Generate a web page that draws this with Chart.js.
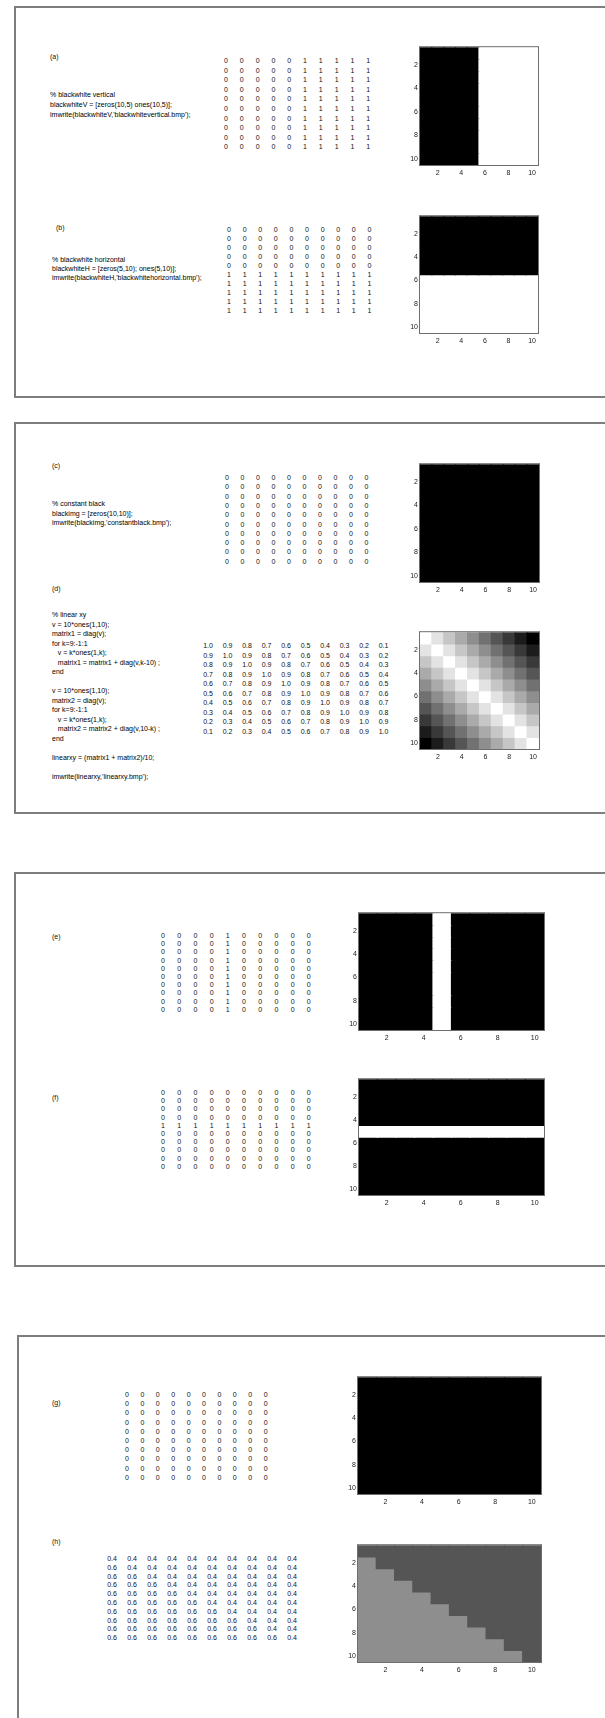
<!DOCTYPE html>
<html lang="en">
<head>
<meta charset="UTF-8">
<title>Test images</title>
<script src="https://cdn.jsdelivr.net/npm/chart.js"></script>
<style>
  html, body { margin: 0; padding: 0; background: #fff; overflow: hidden; }
  body { width: 605px; height: 1718px; position: relative; font-family: 'Liberation Sans', Arial, sans-serif; color: #000; -webkit-font-smoothing: antialiased; }
  .panel { position: absolute; box-sizing: border-box; border: 2px solid #7d7d7d; width: 640px; }
  .lbl { position: absolute; font-size: 7px; line-height: 8px; color: #111; }
  .code { position: absolute; font-size: 7px; line-height: 9.5px; white-space: pre; color: #000; }
  .num { position: absolute; font-size: 7px; line-height: 7px; transform: translate(-50%, -50%); color: #111; }
  canvas { position: absolute; }
</style>
</head>
<body>
  <div class="panel" style="left:14px; top:6px; height:392px;"></div>
  <div class="panel" style="left:14px; top:422px; height:392px;"></div>
  <div class="panel" style="left:14px; top:872px; height:395px;"></div>
  <div class="panel" style="left:17px; top:1335px; height:500px;"></div>

  <div class="lbl" style="left:50px; top:53px;">(a)</div>
  <div class="lbl" style="left:56px; top:224px;">(b)</div>
  <div class="lbl" style="left:52px; top:462px;">(c)</div>
  <div class="lbl" style="left:52px; top:585px;">(d)</div>
  <div class="lbl" style="left:52px; top:933px;">(e)</div>
  <div class="lbl" style="left:52px; top:1094px;">(f)</div>
  <div class="lbl" style="left:52px; top:1399px;">(g)</div>
  <div class="lbl" style="left:52px; top:1538px;">(h)</div>

  <div class="code" id="codeA" style="left:50px; top:90px; line-height:10px;"></div>
  <div class="code" id="codeB" style="left:52px; top:255px; line-height:9px;"></div>
  <div class="code" id="codeC" style="left:52px; top:499px;"></div>
  <div class="code" id="codeD" style="left:52px; top:610px;"></div>

<script>
// ---- data ----
const cols = [1, 2, 3, 4, 5, 6, 7, 8, 9, 10];
const rowsIdx = [1, 2, 3, 4, 5, 6, 7, 8, 9, 10];
const tickVals = [2, 4, 6, 8, 10];

const codeA = [
  '% blackwhite vertical',
  "blackwhiteV = [zeros(10,5) ones(10,5)];",
  "imwrite(blackwhiteV,'blackwhitevertical.bmp');"
];
const codeB = [
  '% blackwhite horizontal',
  "blackwhiteH = [zeros(5,10); ones(5,10)];",
  "imwrite(blackwhiteH,'blackwhitehorizontal.bmp');"
];
const codeC = [
  '% constant black',
  "blackimg = [zeros(10,10)];",
  "imwrite(blackimg,'constantblack.bmp');"
];
const codeD = [
  '% linear xy',
  'v = 10*ones(1,10);',
  'matrix1 = diag(v);',
  'for k=9:-1:1',
  '   v = k*ones(1,k);',
  '   matrix1 = matrix1 + diag(v,k-10) ;',
  'end',
  '',
  'v = 10*ones(1,10);',
  'matrix2 = diag(v);',
  'for k=9:-1:1',
  '   v = k*ones(1,k);',
  '   matrix2 = matrix2 + diag(v,10-k) ;',
  'end',
  '',
  'linearxy = (matrix1 + matrix2)/10;',
  '',
  "imwrite(linearxy,'linearxy.bmp');"
];

const matA = [
  [0, 0, 0, 0, 0, 1, 1, 1, 1, 1],
  [0, 0, 0, 0, 0, 1, 1, 1, 1, 1],
  [0, 0, 0, 0, 0, 1, 1, 1, 1, 1],
  [0, 0, 0, 0, 0, 1, 1, 1, 1, 1],
  [0, 0, 0, 0, 0, 1, 1, 1, 1, 1],
  [0, 0, 0, 0, 0, 1, 1, 1, 1, 1],
  [0, 0, 0, 0, 0, 1, 1, 1, 1, 1],
  [0, 0, 0, 0, 0, 1, 1, 1, 1, 1],
  [0, 0, 0, 0, 0, 1, 1, 1, 1, 1],
  [0, 0, 0, 0, 0, 1, 1, 1, 1, 1]
];
const matB = [
  [0, 0, 0, 0, 0, 0, 0, 0, 0, 0],
  [0, 0, 0, 0, 0, 0, 0, 0, 0, 0],
  [0, 0, 0, 0, 0, 0, 0, 0, 0, 0],
  [0, 0, 0, 0, 0, 0, 0, 0, 0, 0],
  [0, 0, 0, 0, 0, 0, 0, 0, 0, 0],
  [1, 1, 1, 1, 1, 1, 1, 1, 1, 1],
  [1, 1, 1, 1, 1, 1, 1, 1, 1, 1],
  [1, 1, 1, 1, 1, 1, 1, 1, 1, 1],
  [1, 1, 1, 1, 1, 1, 1, 1, 1, 1],
  [1, 1, 1, 1, 1, 1, 1, 1, 1, 1]
];
const matC = [
  [0, 0, 0, 0, 0, 0, 0, 0, 0, 0],
  [0, 0, 0, 0, 0, 0, 0, 0, 0, 0],
  [0, 0, 0, 0, 0, 0, 0, 0, 0, 0],
  [0, 0, 0, 0, 0, 0, 0, 0, 0, 0],
  [0, 0, 0, 0, 0, 0, 0, 0, 0, 0],
  [0, 0, 0, 0, 0, 0, 0, 0, 0, 0],
  [0, 0, 0, 0, 0, 0, 0, 0, 0, 0],
  [0, 0, 0, 0, 0, 0, 0, 0, 0, 0],
  [0, 0, 0, 0, 0, 0, 0, 0, 0, 0],
  [0, 0, 0, 0, 0, 0, 0, 0, 0, 0]
];
const matD = [
  [1.0, 0.9, 0.8, 0.7, 0.6, 0.5, 0.4, 0.3, 0.2, 0.1],
  [0.9, 1.0, 0.9, 0.8, 0.7, 0.6, 0.5, 0.4, 0.3, 0.2],
  [0.8, 0.9, 1.0, 0.9, 0.8, 0.7, 0.6, 0.5, 0.4, 0.3],
  [0.7, 0.8, 0.9, 1.0, 0.9, 0.8, 0.7, 0.6, 0.5, 0.4],
  [0.6, 0.7, 0.8, 0.9, 1.0, 0.9, 0.8, 0.7, 0.6, 0.5],
  [0.5, 0.6, 0.7, 0.8, 0.9, 1.0, 0.9, 0.8, 0.7, 0.6],
  [0.4, 0.5, 0.6, 0.7, 0.8, 0.9, 1.0, 0.9, 0.8, 0.7],
  [0.3, 0.4, 0.5, 0.6, 0.7, 0.8, 0.9, 1.0, 0.9, 0.8],
  [0.2, 0.3, 0.4, 0.5, 0.6, 0.7, 0.8, 0.9, 1.0, 0.9],
  [0.1, 0.2, 0.3, 0.4, 0.5, 0.6, 0.7, 0.8, 0.9, 1.0]
];
const matE = [
  [0, 0, 0, 0, 1, 0, 0, 0, 0, 0],
  [0, 0, 0, 0, 1, 0, 0, 0, 0, 0],
  [0, 0, 0, 0, 1, 0, 0, 0, 0, 0],
  [0, 0, 0, 0, 1, 0, 0, 0, 0, 0],
  [0, 0, 0, 0, 1, 0, 0, 0, 0, 0],
  [0, 0, 0, 0, 1, 0, 0, 0, 0, 0],
  [0, 0, 0, 0, 1, 0, 0, 0, 0, 0],
  [0, 0, 0, 0, 1, 0, 0, 0, 0, 0],
  [0, 0, 0, 0, 1, 0, 0, 0, 0, 0],
  [0, 0, 0, 0, 1, 0, 0, 0, 0, 0]
];
const matF = [
  [0, 0, 0, 0, 0, 0, 0, 0, 0, 0],
  [0, 0, 0, 0, 0, 0, 0, 0, 0, 0],
  [0, 0, 0, 0, 0, 0, 0, 0, 0, 0],
  [0, 0, 0, 0, 0, 0, 0, 0, 0, 0],
  [1, 1, 1, 1, 1, 1, 1, 1, 1, 1],
  [0, 0, 0, 0, 0, 0, 0, 0, 0, 0],
  [0, 0, 0, 0, 0, 0, 0, 0, 0, 0],
  [0, 0, 0, 0, 0, 0, 0, 0, 0, 0],
  [0, 0, 0, 0, 0, 0, 0, 0, 0, 0],
  [0, 0, 0, 0, 0, 0, 0, 0, 0, 0]
];
const matG = [
  [0, 0, 0, 0, 0, 0, 0, 0, 0, 0],
  [0, 0, 0, 0, 0, 0, 0, 0, 0, 0],
  [0, 0, 0, 0, 0, 0, 0, 0, 0, 0],
  [0, 0, 0, 0, 0, 0, 0, 0, 0, 0],
  [0, 0, 0, 0, 0, 0, 0, 0, 0, 0],
  [0, 0, 0, 0, 0, 0, 0, 0, 0, 0],
  [0, 0, 0, 0, 0, 0, 0, 0, 0, 0],
  [0, 0, 0, 0, 0, 0, 0, 0, 0, 0],
  [0, 0, 0, 0, 0, 0, 0, 0, 0, 0],
  [0, 0, 0, 0, 0, 0, 0, 0, 0, 0]
];
const matH = [
  [0.4, 0.4, 0.4, 0.4, 0.4, 0.4, 0.4, 0.4, 0.4, 0.4],
  [0.6, 0.4, 0.4, 0.4, 0.4, 0.4, 0.4, 0.4, 0.4, 0.4],
  [0.6, 0.6, 0.4, 0.4, 0.4, 0.4, 0.4, 0.4, 0.4, 0.4],
  [0.6, 0.6, 0.6, 0.4, 0.4, 0.4, 0.4, 0.4, 0.4, 0.4],
  [0.6, 0.6, 0.6, 0.6, 0.4, 0.4, 0.4, 0.4, 0.4, 0.4],
  [0.6, 0.6, 0.6, 0.6, 0.6, 0.4, 0.4, 0.4, 0.4, 0.4],
  [0.6, 0.6, 0.6, 0.6, 0.6, 0.6, 0.4, 0.4, 0.4, 0.4],
  [0.6, 0.6, 0.6, 0.6, 0.6, 0.6, 0.6, 0.4, 0.4, 0.4],
  [0.6, 0.6, 0.6, 0.6, 0.6, 0.6, 0.6, 0.6, 0.4, 0.4],
  [0.6, 0.6, 0.6, 0.6, 0.6, 0.6, 0.6, 0.6, 0.6, 0.4]
];

// ---- layout (pixel boxes of each image axes, and text grids) ----
const imgBox = {
  a: { l: 420, t: 43, w: 118, h: 122 },
  b: { l: 420, t: 212, w: 118, h: 121 },
  c: { l: 420, t: 460, w: 119, h: 122 },
  d: { l: 420, t: 628, w: 119, h: 121 },
  e: { l: 359, t: 909, w: 185, h: 121 },
  f: { l: 359, t: 1075, w: 185, h: 120 },
  g: { l: 358, t: 1373, w: 183, h: 121 },
  h: { l: 358, t: 1541, w: 183, h: 121 }
};
const numGrid = {
  a: { x0: 226, dx: 15.8, y0: 60, dy: 9.6 },
  b: { x0: 229, dx: 15.6, y0: 229, dy: 9.0 },
  c: { x0: 227, dx: 15.5, y0: 477, dy: 9.3 },
  d: { x0: 208, dx: 19.5, y0: 645, dy: 9.5 },
  e: { x0: 163, dx: 16.2, y0: 935, dy: 8.2 },
  f: { x0: 163, dx: 16.2, y0: 1092, dy: 8.2 },
  g: { x0: 127, dx: 15.4, y0: 1394, dy: 9.2 },
  h: { x0: 112, dx: 20, y0: 1558, dy: 8.8 }
};

const FONT = "'Liberation Sans', Arial, sans-serif";

function gray(v) {
  const g = Math.round(255 * Math.min(1, Math.max(0, (v - 0.1) / 0.9)));
  return `rgb(${g},${g},${g})`;
}

function putCode(id, lines) {
  document.getElementById(id).textContent = lines.join('\n');
}

function putMatrix(mat, grid, digits) {
  mat.forEach((row, r) => row.forEach((v, c) => {
    const s = document.createElement('span');
    s.className = 'num';
    s.textContent = digits ? v.toFixed(digits) : String(v);
    s.style.left = (grid.x0 + c * grid.dx) + 'px';
    s.style.top = (grid.y0 + r * grid.dy) + 'px';
    document.body.appendChild(s);
  }));
}

const frame = {
  id: 'frame',
  afterDatasetsDraw(chart) {
    const { ctx, chartArea: a } = chart;
    ctx.save();
    ctx.strokeStyle = '#6e6e6e';
    ctx.lineWidth = 1;
    ctx.strokeRect(a.left - 0.5, a.top - 0.5, a.right - a.left + 1, a.bottom - a.top + 1);
    ctx.restore();
  }
};

function drawImage(mat, box) {
  const padTop = 2, padRight = 4, yW = 16, xH = 14;
  const cv = document.createElement('canvas');
  cv.width = box.w + yW + padRight;
  cv.height = box.h + padTop + xH;
  cv.style.left = (box.l - yW) + 'px';
  cv.style.top = (box.t - padTop) + 'px';
  document.body.appendChild(cv);

  const datasets = mat.map((row, r) => ({
    data: row.map((v, c) => ({ x: cols[c], y: [rowsIdx[r] - 0.5, rowsIdx[r] + 0.5] })),
    backgroundColor: row.map(gray),
    borderWidth: 0,
    inflateAmount: 0.6,
    grouped: false,
    barPercentage: 1,
    categoryPercentage: 1
  }));

  const axis = (isX) => ({
    type: 'linear',
    min: 0.5, max: 10.5,
    reverse: !isX,
    offset: false,
    grid: { display: false, drawTicks: false },
    border: { display: false },
    ticks: { font: { size: 7, family: FONT }, color: '#222', padding: isX ? 4 : 2, maxRotation: 0, autoSkip: false },
    afterBuildTicks: s => { s.ticks = tickVals.map(v => ({ value: v })); },
    afterFit: s => { if (isX) s.height = xH; else s.width = yW; }
  });

  new Chart(cv, {
    type: 'bar',
    data: { datasets },
    options: {
      responsive: false,
      animation: false,
      events: [],
      layout: { padding: { top: padTop, right: padRight, left: 0, bottom: 0 } },
      scales: { x: axis(true), y: axis(false) },
      plugins: { legend: { display: false }, tooltip: { enabled: false } }
    },
    plugins: [frame]
  });
}

putCode('codeA', codeA);
putCode('codeB', codeB);
putCode('codeC', codeC);
putCode('codeD', codeD);

putMatrix(matA, numGrid.a, 0);
putMatrix(matB, numGrid.b, 0);
putMatrix(matC, numGrid.c, 0);
putMatrix(matD, numGrid.d, 1);
putMatrix(matE, numGrid.e, 0);
putMatrix(matF, numGrid.f, 0);
putMatrix(matG, numGrid.g, 0);
putMatrix(matH, numGrid.h, 1);

drawImage(matA, imgBox.a);
drawImage(matB, imgBox.b);
drawImage(matC, imgBox.c);
drawImage(matD, imgBox.d);
drawImage(matE, imgBox.e);
drawImage(matF, imgBox.f);
drawImage(matG, imgBox.g);
drawImage(matH, imgBox.h);
</script>
</body>
</html>
